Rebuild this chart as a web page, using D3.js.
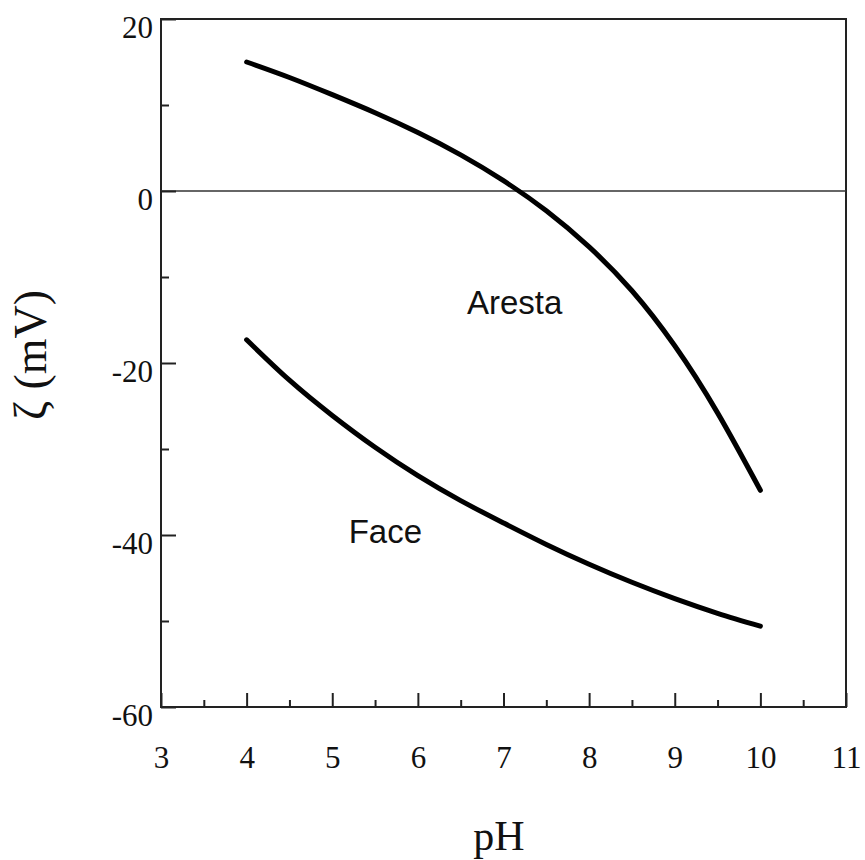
<!DOCTYPE html>
<html>
<head>
<meta charset="utf-8">
<script src="https://cdn.jsdelivr.net/npm/d3@7"></script>
<style>
  html, body { margin: 0; padding: 0; background: #fff; }
</style>
</head>
<body>
<svg id="chart" width="865" height="860"></svg>
<script>
// ---- data ----
const pH = [4, 4.5, 5, 5.5, 6, 6.5, 7, 7.5, 8, 8.5, 9, 9.5, 10];
const aresta = [15, 13.2, 11.2, 9.1, 6.8, 4.2, 1.2, -2.3, -6.5, -11.6, -18.0, -25.8, -34.8];
const face = [-17.3, -22.0, -26.1, -29.8, -33.1, -36.0, -38.6, -41.1, -43.4, -45.5, -47.4, -49.1, -50.6];
const xTicks = [3, 4, 5, 6, 7, 8, 9, 10, 11];
const xMinorTicks = [3.5, 4.5, 5.5, 6.5, 7.5, 8.5, 9.5, 10.5];
const yTicks = [20, 0, -20, -40, -60];
const yMinorTicks = [10, -10, -30, -50];
const labels = [
  { text: "Aresta", x: 7.13, y: -14.3 },
  { text: "Face", x: 5.62, y: -40.9 }
];

// ---- layout ----
const svg = d3.select("#chart");
const mLeft = 161, mRight = 846, mTop = 19, mBottom = 707;
const x = d3.scaleLinear().domain([3, 11]).range([mLeft, mRight]);
const y = d3.scaleLinear().domain([-60, 20]).range([mBottom, mTop]);

const serif = "'Liberation Serif', 'Times New Roman', serif";
const sans = "'Liberation Sans', Arial, sans-serif";
const fmt = d => String(d);

// frame
svg.append("rect")
  .attr("x", mLeft).attr("y", mTop)
  .attr("width", mRight - mLeft).attr("height", mBottom - mTop)
  .attr("fill", "none").attr("stroke", "#222").attr("stroke-width", 2);

// zero line
svg.append("line")
  .attr("x1", mLeft).attr("x2", mRight)
  .attr("y1", y(0)).attr("y2", y(0))
  .attr("stroke", "#333").attr("stroke-width", 1.6);

// x axis ticks (inward)
const xAxisMajor = d3.axisBottom(x).tickValues(xTicks).tickSize(-14).tickFormat(fmt).tickPadding(39);
const gx = svg.append("g").attr("transform", `translate(0,${mBottom})`).call(xAxisMajor);
gx.select(".domain").remove();
gx.selectAll(".tick line").attr("stroke", "#222").attr("stroke-width", 2);
gx.selectAll(".tick text")
  .attr("font-family", serif).attr("font-size", 31).attr("fill", "#111");

const xAxisMinor = d3.axisBottom(x).tickValues(xMinorTicks).tickSize(-7).tickFormat("");
const gxm = svg.append("g").attr("transform", `translate(0,${mBottom})`).call(xAxisMinor);
gxm.select(".domain").remove();
gxm.selectAll(".tick line").attr("stroke", "#222").attr("stroke-width", 2);

// y axis ticks (inward)
const yAxisMajor = d3.axisLeft(y).tickValues(yTicks).tickSize(-15).tickFormat(fmt).tickPadding(8);
const gy = svg.append("g").attr("transform", `translate(${mLeft},0)`).call(yAxisMajor);
gy.select(".domain").remove();
gy.selectAll(".tick line").attr("stroke", "#222").attr("stroke-width", 2);
gy.selectAll(".tick text")
  .attr("font-family", serif).attr("font-size", 31).attr("fill", "#111")
  .attr("x", -8).attr("dy", "0.6em");

const yAxisMinor = d3.axisLeft(y).tickValues(yMinorTicks).tickSize(-8).tickFormat("");
const gym = svg.append("g").attr("transform", `translate(${mLeft},0)`).call(yAxisMinor);
gym.select(".domain").remove();
gym.selectAll(".tick line").attr("stroke", "#222").attr("stroke-width", 2);

// curves
const line = d3.line()
  .x((d, i) => x(pH[i]))
  .y(d => y(d))
  .curve(d3.curveNatural);

svg.append("path").datum(aresta)
  .attr("d", line).attr("fill", "none")
  .attr("stroke", "#000").attr("stroke-width", 5).attr("stroke-linecap", "round");

svg.append("path").datum(face)
  .attr("d", line).attr("fill", "none")
  .attr("stroke", "#000").attr("stroke-width", 5).attr("stroke-linecap", "round");

// curve labels
svg.selectAll("text.curve-label").data(labels).enter().append("text")
  .attr("class", "curve-label")
  .attr("x", d => x(d.x)).attr("y", d => y(d.y))
  .attr("text-anchor", "middle")
  .attr("font-family", sans).attr("font-size", 33).attr("fill", "#111")
  .text(d => d.text);

// axis titles
svg.append("text")
  .attr("x", 499).attr("y", 850)
  .attr("text-anchor", "middle")
  .attr("font-family", serif).attr("font-size", 42).attr("fill", "#111")
  .text("pH");

svg.append("text")
  .attr("transform", "translate(46,355) rotate(-90)")
  .attr("text-anchor", "middle")
  .attr("font-family", serif).attr("font-size", 46).attr("fill", "#111")
  .text("ζ (mV)");
</script>
</body>
</html>
